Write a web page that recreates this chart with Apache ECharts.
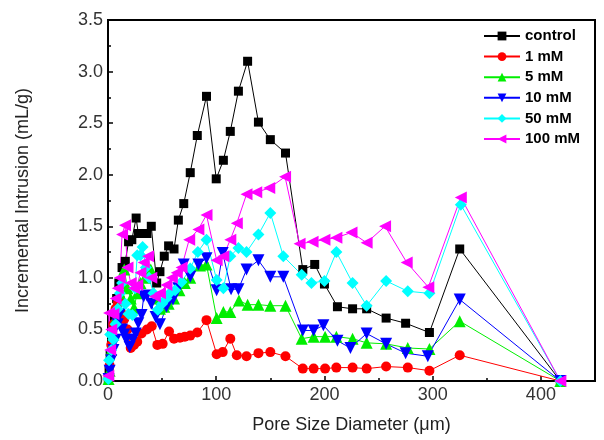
<!DOCTYPE html>
<html>
<head>
<meta charset="utf-8">
<script src="https://cdn.jsdelivr.net/npm/echarts@6/dist/echarts.min.js"></script>
<style>
  html, body { margin: 0; padding: 0; background: #fff; }
  #chart { width: 604px; height: 440px; }
</style>
</head>
<body>
<div id="chart"></div>
<script>
// [pore diameter (um), incremental intrusion (mL/g)]
const control = [[0.3,0.02],[1,0.1],[2,0.25],[4,0.45],[6,0.6],[8,0.8],[10,0.95],[13,1.1],[16,1.16],[19,1.35],[22,1.37],[26,1.58],[28,1.43],[32,1.43],[36,1.43],[40,1.5],[45,0.95],[48,1.06],[52,1.21],[56,1.31],[61,1.28],[65,1.56],[70,1.72],[76,2.02],[82.5,2.38],[91,2.76],[100,1.96],[106.6,2.14],[113,2.42],[120.5,2.81],[129,3.1],[139,2.51],[150,2.34],[164,2.21],[180,1.08],[191,1.13],[200,0.94],[212,0.72],[226,0.70],[239,0.70],[257,0.61],[275,0.56],[297,0.47],[325,1.28],[418,0]]
const mM1 = [[0.5,0.02],[1.5,0.15],[3,0.35],[5,0.55],[7,0.7],[9,0.75],[11,0.8],[13,0.65],[15,0.6],[18,0.5],[21,0.32],[24,0.35],[27,0.38],[31,0.46],[36,0.5],[40.4,0.53],[45.6,0.35],[50.5,0.36],[56.4,0.48],[61,0.41],[66.5,0.42],[71,0.43],[76,0.44],[82.5,0.47],[91,0.59],[100.4,0.26],[106,0.28],[113,0.41],[119,0.25],[128,0.24],[139,0.27],[150,0.28],[164,0.24],[180,0.12],[190,0.12],[200.6,0.12],[211,0.13],[226,0.13],[239,0.12],[257,0.14],[277,0.13],[297,0.10],[325,0.25],[418,0]]
const mM5 = [[0.5,0.02],[1.5,0.1],[3,0.3],[5,0.45],[7,0.6],[9,0.7],[11,0.85],[13,0.95],[15,1.08],[18,0.9],[21,0.8],[24,0.71],[27,0.85],[30,0.95],[34,1.0],[39.5,1.08],[44,0.8],[48,0.7],[52,0.72],[56,0.75],[61,0.8],[66,0.88],[71,0.95],[76,1.0],[85,1.12],[91,1.13],[100.4,0.61],[106.6,0.67],[113,0.67],[121,0.78],[129,0.74],[139,0.74],[150,0.73],[164,0.73],[179,0.41],[190,0.43],[200.6,0.43],[211,0.43],[226,0.41],[239,0.37],[257,0.36],[277,0.32],[297,0.31],[325,0.58],[418,0]]
const mM10 = [[0.5,0.02],[1.5,0.1],[3,0.2],[5,0.3],[7,0.4],[9,0.55],[11,0.65],[13,0.5],[15,0.45],[17,0.4],[20,0.33],[23,0.4],[25.6,0.46],[28,0.56],[31,0.64],[33,0.82],[36,0.83],[40,0.75],[44,0.62],[48,0.55],[54,0.72],[60,0.79],[65,0.9],[70,1.13],[76,1.01],[83.5,1.13],[91,1.19],[100.4,0.88],[106,1.24],[113.7,0.89],[120.5,0.89],[128,1.08],[139,1.17],[150,1.01],[162,1.01],[180,0.49],[190,0.49],[199,0.54],[212,0.39],[224,0.32],[239,0.46],[257,0.36],[275,0.27],[295.5,0.24],[325,0.79],[418,0]]
const mM50 = [[0.3,0.02],[1,0.2],[2,0.45],[3,0.3],[5,0.4],[7,0.55],[9,0.7],[11,0.85],[13,0.95],[16,0.75],[19,0.65],[22.5,0.64],[25,0.9],[27,1.22],[30,1.22],[32,1.3],[35,1.1],[38,1.0],[42,0.85],[46,0.69],[50,0.75],[54,0.8],[57,0.85],[62,0.88],[68,0.96],[76,1.09],[83,1.25],[91,1.37],[100.4,0.98],[106.6,0.90],[113,1.21],[120.5,1.29],[128,1.25],[139,1.42],[150,1.63],[162,1.21],[179,1.03],[188,0.95],[200,0.97],[211,1.25],[226,0.95],[239,0.73],[257,0.97],[277,0.87],[297,0.85],[326,1.71],[418,0]]
const mM100 = [[0.3,0.05],[1,0.66],[2,0.3],[3,0.5],[5,0.65],[7,0.8],[9,0.9],[11,1.0],[13,1.42],[15.7,1.51],[18,1.1],[21,0.95],[24,0.9],[27,0.93],[30,1.05],[33,1.15],[37,1.21],[40,1.0],[43.4,0.82],[48,0.85],[54,0.93],[59,1.0],[63.5,1.05],[68,1.1],[75,1.37],[83.5,1.47],[91,1.61],[100.4,1.17],[106.6,1.21],[113,1.37],[119,1.53],[128,1.81],[137,1.83],[149,1.87],[163.6,1.98],[177,1.33],[189,1.35],[200,1.37],[211,1.39],[225,1.44],[239,1.34],[256,1.50],[276,1.15],[296,0.91],[326,1.78],[418,0]]

const seriesNames = ['control', '1 mM', '5 mM', '10 mM', '50 mM', '100 mM']

const chart = echarts.init(document.getElementById('chart'))

const mkSeries = (name, data, color, symbol, size, rotate) => ({
  name,
  type: 'line',
  data,
  symbol,
  symbolSize: size,
  symbolRotate: rotate,
  showAllSymbol: true,
  clip: true,
  lineStyle: { color, width: 1 },
  itemStyle: { color, opacity: 1 },
  emphasis: { disabled: true },
})

chart.setOption({
  animation: false,
  backgroundColor: '#fff',
  textStyle: { fontFamily: 'Liberation Sans, Arial, sans-serif' },
  grid: {
    left: 108,
    right: 9,
    top: 20,
    bottom: 59,
    show: true,
    borderColor: '#000',
    borderWidth: 2,
  },
  legend: {
    data: seriesNames,
    orient: 'vertical',
    left: 483,
    top: 28,
    padding: 0,
    itemWidth: 36,
    itemHeight: 11,
    itemGap: 4.6,
    textStyle: { fontSize: 15, fontWeight: 'bold', color: '#000', lineHeight: 16 },
  },
  xAxis: {
    type: 'value',
    min: 0,
    max: 450,
    interval: 100,
    name: 'Pore Size Diameter (\u03bcm)',
    nameLocation: 'middle',
    nameGap: 35,
    nameTextStyle: { fontSize: 18, color: '#222' },
    axisLine: { lineStyle: { color: '#000', width: 2 } },
    axisTick: { inside: true, length: 5, lineStyle: { color: '#000', width: 1.5 } },
    minorTick: { show: true, splitNumber: 2, length: 3, lineStyle: { color: '#000', width: 1.5 } },
    axisLabel: { fontSize: 18, color: '#333', margin: 5, showMaxLabel: false },
    splitLine: { show: false },
  },
  yAxis: {
    type: 'value',
    min: 0,
    max: 3.5,
    interval: 0.5,
    name: 'Incremental Intrusion (mL/g)',
    nameLocation: 'middle',
    nameGap: 76,
    nameTextStyle: { fontSize: 18, color: '#222' },
    axisLine: { lineStyle: { color: '#000', width: 2 } },
    axisTick: { inside: true, length: 5, lineStyle: { color: '#000', width: 1.5 } },
    minorTick: { show: true, splitNumber: 2, length: 3, lineStyle: { color: '#000', width: 1.5 } },
    axisLabel: { fontSize: 18, color: '#333', margin: 5, formatter: v => v.toFixed(1) },
    splitLine: { show: false },
  },
  series: [
    mkSeries('control', control, '#000000', 'rect', 9, 0),
    mkSeries('1 mM', mM1, '#ff0000', 'circle', 10, 0),
    mkSeries('5 mM', mM5, '#00ee00', 'triangle', 12, 0),
    mkSeries('10 mM', mM10, '#0000ff', 'triangle', 12, 180),
    mkSeries('50 mM', mM50, '#00ffff', 'diamond', 12, 0),
    mkSeries('100 mM', mM100, '#ff00ff', 'triangle', 12, 90),
  ],
})

window.addEventListener('resize', () => chart.resize())
</script>
</body>
</html>
